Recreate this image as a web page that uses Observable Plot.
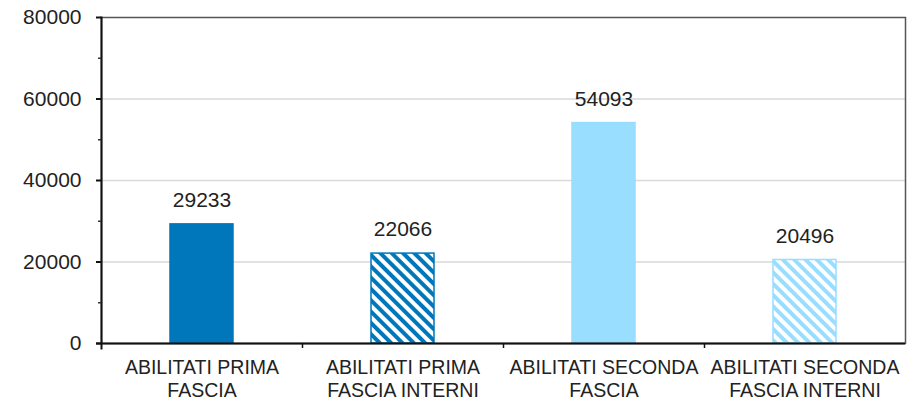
<!DOCTYPE html>
<html>
<head>
<meta charset="utf-8">
<script src="https://cdn.jsdelivr.net/npm/d3@7"></script>
<script src="https://cdn.jsdelivr.net/npm/@observablehq/plot@0.6"></script>
<style>
  html, body { margin: 0; padding: 0; background: white; }
</style>
</head>
<body>
<div id="chart"></div>
<script>
const categories = [
  "ABILITATI PRIMA\nFASCIA",
  "ABILITATI PRIMA\nFASCIA INTERNI",
  "ABILITATI SECONDA\nFASCIA",
  "ABILITATI SECONDA\nFASCIA INTERNI"
];
const values = [29233, 22066, 54093, 20496];
const fills = ["#0077BB", "url(#hatchDark)", "#99DDFF", "url(#hatchLight)"];
const strokes = ["#0077BB", "#0077BB", "#99DDFF", "#99DDFF"];
const yTicks = [0, 20000, 40000, 60000, 80000];
const yMinorTicks = [10000, 30000, 50000, 70000];

const data = categories.map((c, i) => ({cat: c, value: values[i], fill: fills[i], stroke: strokes[i]}));

const W = 908, H = 401, ML = 101, MR = 3, MT = 17, MB = 58;
const bandwidth = (W - ML - MR) / categories.length;

const svg = Plot.plot({
  width: W, height: H,
  marginLeft: ML, marginRight: MR, marginTop: MT, marginBottom: MB,
  style: {fontFamily: "'Liberation Sans', Arial, sans-serif", background: "white", color: "#222"},
  x: {domain: categories, padding: 0},
  y: {domain: [0, 80000]},
  color: {type: "identity"},
  marks: [
    Plot.gridY(yTicks.slice(1, 4), {stroke: "#d9d9d9", strokeOpacity: 1, strokeWidth: 1.5}),
    Plot.barY(data, {x: "cat", y: "value", fill: "fill", stroke: "stroke", strokeWidth: 1.5, insetLeft: 69, insetRight: 69}),
    Plot.text(data, {x: "cat", y: "value", text: d => String(d.value), dy: -24, fontSize: 21, fill: "#222"}),
    Plot.frame({stroke: "#555", strokeWidth: 1.5}),
    Plot.frame({anchor: "left", stroke: "#111", strokeWidth: 2, insetBottom: -5}),
    Plot.ruleY([0], {stroke: "#111", strokeWidth: 2, insetLeft: -5}),
    Plot.ruleX(categories.slice(1), {x: d => d, y1: 0, y2: 0, dx: -bandwidth / 2, insetBottom: -5, stroke: "#111", strokeWidth: 1.5}),
    Plot.axisY({ticks: yTicks, tickSize: 5, tickPadding: 15, fontSize: 21, tickFormat: d => String(d), stroke: "#111", strokeWidth: 2, label: null, fill: "#222"}),
    Plot.axisY({ticks: yMinorTicks, tickSize: 3, text: null, label: null, stroke: "#333", strokeWidth: 1.5}),
    Plot.axisX({tickSize: 0, tickPadding: 15, fontSize: 19.5, lineHeight: 1.15, label: null, fill: "#222"})
  ]
});

const defs = d3.select(svg).insert("defs", ":first-child");
[["hatchDark", "#0077BB"], ["hatchLight", "#99DDFF"]].forEach(([id, col]) => {
  const p = defs.append("pattern")
    .attr("id", id)
    .attr("patternUnits", "userSpaceOnUse")
    .attr("width", 8).attr("height", 8)
    .attr("patternTransform", "rotate(-45)");
  p.append("rect").attr("width", 8).attr("height", 8).attr("fill", "white");
  p.append("rect").attr("width", 4).attr("height", 8).attr("fill", col);
});

document.getElementById("chart").appendChild(svg);
</script>
</body>
</html>
